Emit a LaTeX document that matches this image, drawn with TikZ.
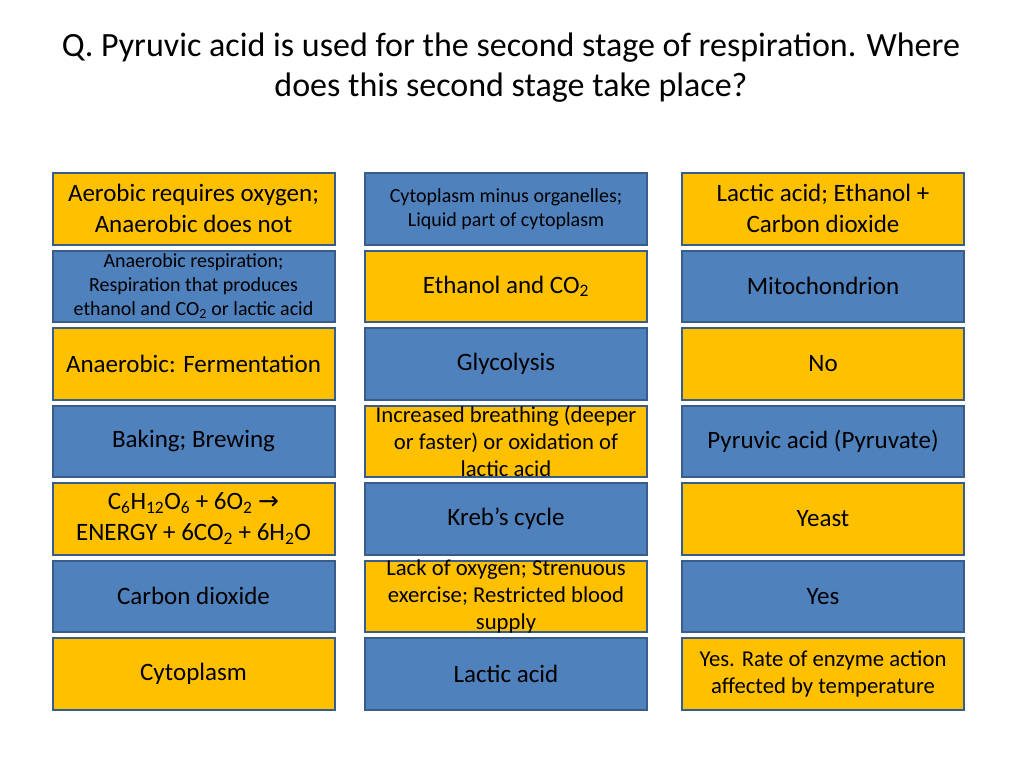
\documentclass[tikz,border=0pt]{standalone}
\usepackage{fontspec}
\setmainfont{Carlito}
\newfontfamily\arrowfont{DejaVu Sans}
\definecolor{gold}{HTML}{FFC000}
\definecolor{slideblue}{HTML}{4F81BD}
\definecolor{edgeblue}{HTML}{385D8A}
\tikzset{
box/.style={rectangle,draw=edgeblue,line width=2pt,minimum width=282pt,minimum height=71.5pt,inner sep=2pt,align=center,font=\fontsize{25}{31}\selectfont},
gold box/.style={box,fill=gold},
blue box/.style={box,fill=slideblue},
midtext/.style={align=center,font=\fontsize{22.7}{27}\selectfont},
smalltext/.style={font=\fontsize{20}{24}\selectfont}}

\begin{document}
\begin{tikzpicture}[x=1pt,y=-1pt]
\useasboundingbox (0,0) rectangle (1024,768);

\node[align=center,font=\fontsize{34}{40}\selectfont] (title) at (511,68) {Q. Pyruvic acid is used for the second stage of respiration. Where\\does this second stage take place?};

\node[gold box] (a1) at (193.5,208.75) {Aerobic requires oxygen;\\Anaerobic does not};
\node[blue box,smalltext] (a2) at (193.5,286.25) {Anaerobic respiration;\\Respiration that produces\\ethanol and CO\textsubscript{2} or lactic acid};
\node[gold box] (a3) at (193.5,363.75) {Anaerobic: Fermentation};
\node[blue box] (a4) at (193.5,441.25) {Baking; Brewing};
\node[gold box] (a5) at (193.5,518.75) {C\textsubscript{6}H\textsubscript{12}O\textsubscript{6} + 6O\textsubscript{2} {\arrowfont →}\\ENERGY + 6CO\textsubscript{2} + 6H\textsubscript{2}O};
\node[blue box] (a6) at (193.5,596.25) {Carbon dioxide};
\node[gold box] (a7) at (193.5,673.75) {Cytoplasm};

\node[blue box,smalltext] (b1) at (506,208.75) {Cytoplasm minus organelles;\\Liquid part of cytoplasm};
\node[gold box] (b2) at (506,286.25) {Ethanol and CO\textsubscript{2}};
\node[blue box] (b3) at (506,363.75) {Glycolysis};
\node[gold box] (b4) at (506,441.25) {};
\node[midtext] (b4 text) at (b4) {Increased breathing (deeper\\or faster) or oxidation of\\lactic acid};
\node[blue box] (b5) at (506,518.75) {Kreb’s cycle};
\node[gold box] (b6) at (506,596.25) {};
\node[midtext] (b6 text) at (b6) {Lack of oxygen; Strenuous\\exercise; Restricted blood\\supply};
\node[blue box] (b7) at (506,673.75) {Lactic acid};

\node[gold box] (c1) at (823,208.75) {Lactic acid; Ethanol +\\Carbon dioxide};
\node[blue box] (c2) at (823,286.25) {Mitochondrion};
\node[gold box] (c3) at (823,363.75) {No};
\node[blue box] (c4) at (823,441.25) {Pyruvic acid (Pyruvate)};
\node[gold box] (c5) at (823,518.75) {Yeast};
\node[blue box] (c6) at (823,596.25) {Yes};
\node[gold box,midtext] (c7) at (823,673.75) {Yes. Rate of enzyme action\\affected by temperature};

\end{tikzpicture}
\end{document}
